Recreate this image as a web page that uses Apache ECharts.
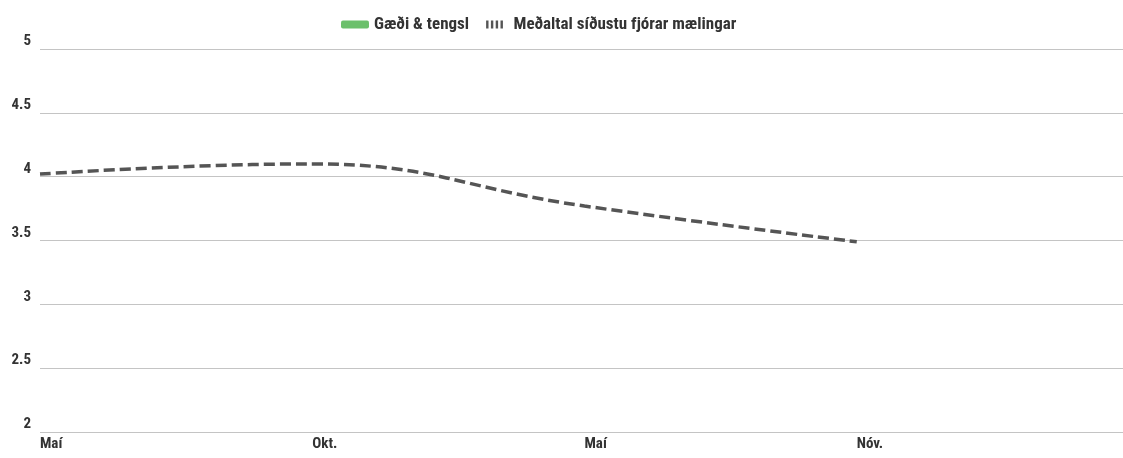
<!DOCTYPE html>
<html><head><meta charset="utf-8">
<script src="https://cdn.jsdelivr.net/npm/echarts@6/dist/echarts.min.js"></script>
<style>html,body{margin:0;padding:0;background:#fff;overflow:hidden}#c{width:1123px;height:458px}</style>
</head><body><div id="c"></div>
<script>
const categories = ['Maí', 'Okt.', 'Maí', 'Nóv.', ''];
const gaediTengsl = [null, null, null, null, null];
const medaltal = [4.02, 4.10, 3.77, 3.49, null];
const yTicks = [2, 2.5, 3, 3.5, 4, 4.5, 5];

const FONT = "'Roboto Condensed','Liberation Sans Narrow','Roboto',sans-serif";
const chart = echarts.init(document.getElementById('c'));
chart.setOption({
  animation: false,
  textStyle: { fontFamily: FONT },
  legend: {
    top: 11, left: 336, itemGap: 17, itemWidth: 28, itemHeight: 8,
    textStyle: { fontFamily: FONT, fontSize: 17, fontWeight: 'bold', color: '#333' },
    data: [
      { name: 'Gæði & tengsl', icon: 'roundRect', itemStyle: { color: '#6cc06c' } },
      { name: 'Meðaltal síðustu fjórar mælingar', icon: 'path://M0,0h3v10h-3zM6,0h3v10h-3zM12,0h3v10h-3zM18,0h3v10h-3z', itemStyle: { color: '#555' }, itemWidth: 22, itemHeight: 10 }
    ]
  },
  grid: { left: 40, width: 1089, top: 49, bottom: 26, outerBoundsMode: 'none', containLabel: false },
  xAxis: {
    type: 'category', data: categories, boundaryGap: false,
    axisLine: { show: false }, axisTick: { show: false },
    axisLabel: { align: 'left', margin: 5, fontFamily: FONT, fontSize: 15, fontWeight: 'bold', color: '#333' }
  },
  yAxis: {
    type: 'value', min: 2, max: 5, interval: 0.5,
    axisLine: { show: false }, axisTick: { show: false },
    splitLine: { lineStyle: { color: '#c4c4c4', width: 1 } },
    axisLabel: { margin: 9, verticalAlign: 'bottom', fontFamily: FONT, fontSize: 15, fontWeight: 'bold', color: '#333',
      formatter: v => yTicks.includes(v) ? String(v) : '' }
  },
  series: [
    { name: 'Gæði & tengsl', type: 'bar', data: gaediTengsl, itemStyle: { color: '#6cc06c' } },
    { name: 'Meðaltal síðustu fjórar mælingar', type: 'line', data: medaltal, smooth: 0.45, symbol: 'none',
      lineStyle: { color: '#555', width: 3.5, type: [11, 5] }, itemStyle: { color: '#555' } }
  ]
});
</script></body></html>
